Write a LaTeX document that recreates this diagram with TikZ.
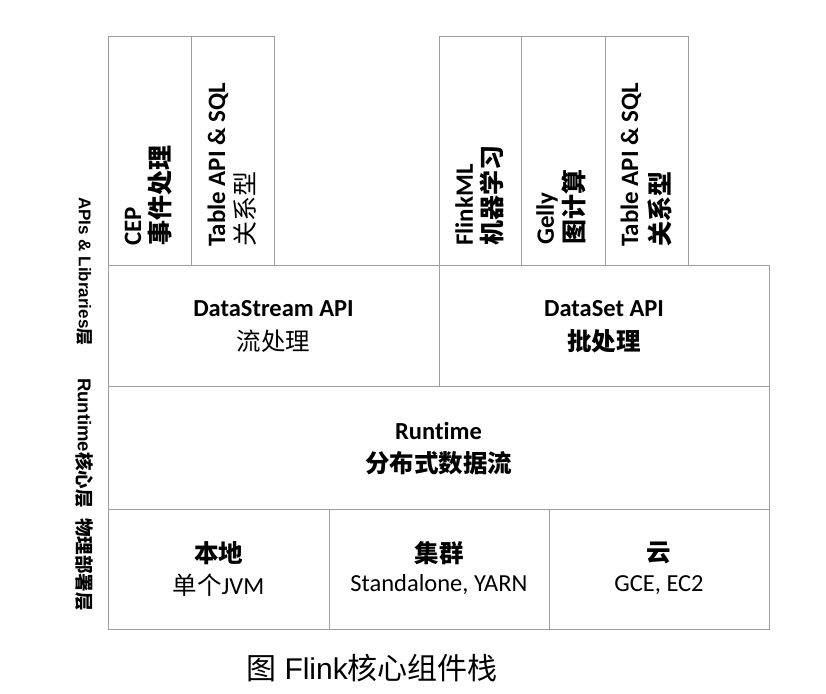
\documentclass[tikz,border=0pt]{standalone}
\usepackage{fontspec}
\setmainfont{Carlito}[Ligatures=NoCommon]
\newfontfamily\cjk{Noto Sans CJK SC}
\newfontfamily\arl{Liberation Sans}
\begin{document}
\begin{tikzpicture}[x=1pt,y=-1pt,
  cell/.style={draw=black!38, line width=1.3pt, inner sep=0pt, anchor=north west},
  txt/.style={inner sep=0pt, font=\fontsize{24.5}{26}\selectfont, text=black},
  vtxt/.style={txt, rotate=90, anchor=west},
  side/.style={inner sep=0pt, rotate=-90, anchor=west, font=\fontsize{17}{18}\selectfont\arl\bfseries}
]
\useasboundingbox (0,0) rectangle (826,693);
% top boxes
\node[cell, minimum width=83pt, minimum height=229pt] (cep) at (108,36) {};
\node[cell, minimum width=83pt, minimum height=229pt] (tbl1) at (191,36) {};
\node[cell, minimum width=82pt, minimum height=229pt] (fml) at (439,36) {};
\node[cell, minimum width=84pt, minimum height=229pt] (gel) at (521,36) {};
\node[cell, minimum width=83pt, minimum height=229pt] (tbl2) at (605,36) {};
% API row
\node[cell, minimum width=331pt, minimum height=121pt] (ds) at (108,265) {};
\node[cell, minimum width=330pt, minimum height=121pt] (dset) at (439,265) {};
% runtime
\node[cell, minimum width=661pt, minimum height=123pt] (rt) at (108,386) {};
% bottom
\node[cell, minimum width=221pt, minimum height=120pt] (loc) at (108,509) {};
\node[cell, minimum width=220pt, minimum height=120pt] (clu) at (329,509) {};
\node[cell, minimum width=220pt, minimum height=120pt] (cld) at (549,509) {};

% vertical texts
\node[vtxt, font=\fontsize{25}{26}\selectfont\bfseries] (t1a) at (133,246) {CEP};
\node[vtxt, font=\fontsize{25}{26}\selectfont\cjk\bfseries] (t1b) at (160,246) {事件处理};
\node[vtxt, font=\fontsize{25}{26}\selectfont\bfseries] (t2a) at (218,247) {Table API \& SQL};
\node[vtxt, font=\fontsize{25}{26}\selectfont\cjk] (t2b) at (245,247) {关系型};
\node[vtxt, font=\fontsize{25}{26}\selectfont\bfseries] (t3a) at (464,246) {FlinkML};
\node[vtxt, font=\fontsize{25}{26}\selectfont\cjk\bfseries] (t3b) at (492,246) {机器学习};
\node[vtxt, font=\fontsize{25}{26}\selectfont\bfseries] (t4a) at (547,245) {Gelly};
\node[vtxt, font=\fontsize{25}{26}\selectfont\cjk\bfseries] (t4b) at (574,245) {图计算};
\node[vtxt, font=\fontsize{25}{26}\selectfont\bfseries] (t5a) at (631,247) {Table API \& SQL};
\node[vtxt, font=\fontsize{25}{26}\selectfont\cjk\bfseries] (t5b) at (660,247) {关系型};

% horizontal texts
\node[txt, font=\fontsize{24.5}{26}\selectfont\bfseries] (dsa) at (273.5,309) {DataStream API};
\node[txt, font=\fontsize{24.5}{26}\selectfont\cjk] (dsb) at (273.5,341) {流处理};
\node[txt, font=\fontsize{24.5}{26}\selectfont\bfseries] (dseta) at (604,309) {DataSet API};
\node[txt, font=\fontsize{24.5}{26}\selectfont\cjk\bfseries] (dsetb) at (604,341) {批处理};
\node[txt, font=\fontsize{24.5}{26}\selectfont\bfseries] (rta) at (438.5,431) {Runtime};
\node[txt, font=\fontsize{24.5}{26}\selectfont\cjk\bfseries] (rtb) at (438.5,463) {分布式数据流};
\node[txt, font=\fontsize{24.5}{26}\selectfont\cjk\bfseries] (loca) at (218.5,553) {本地};
\node[txt] (locb) at (218.5,585) {{\cjk 单个}JVM};
\node[txt, font=\fontsize{24.5}{26}\selectfont\cjk\bfseries] (clua) at (439,553) {集群};
\node[txt] (club) at (439,585) {Standalone, YARN};
\node[txt, font=\fontsize{24.5}{26}\selectfont\cjk\bfseries] (clda) at (659,553) {云};
\node[txt] (cldb) at (659,585) {GCE, EC2};

% side labels
\node[side] (s1) at (85,197) {APIs \& Libraries{\cjk 层}};
\node[side, font=\fontsize{18.5}{19}\selectfont\arl\bfseries] (s2) at (85,378) {Runtime{\cjk 核心层}};
\node[side, font=\fontsize{18.5}{19}\selectfont\cjk\bfseries] (s3) at (85,518) {物理部署层};

% caption
\node[inner sep=0pt, font=\fontsize{30}{32}\selectfont\arl] (cap) at (372,668) {{\cjk 图} Flink{\cjk 核心组件栈}};
\end{tikzpicture}
\end{document}
